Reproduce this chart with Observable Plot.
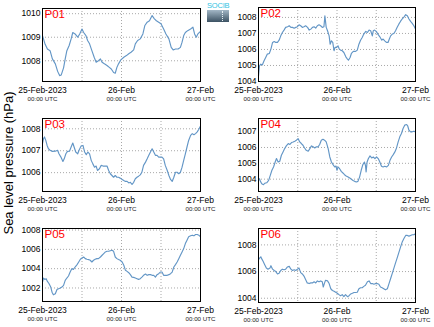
<!DOCTYPE html>
<html>
<head>
<meta charset="utf-8">
<script src="https://cdn.jsdelivr.net/npm/d3@7"></script>
<script src="https://cdn.jsdelivr.net/npm/@observablehq/plot@0.6"></script>
<style>
  html, body { margin: 0; padding: 0; background: #fff; }
  #chart { position: relative; width: 434px; height: 327px; overflow: hidden; background: #fff; font-family: "Liberation Sans", Arial, sans-serif; }
  #chart svg { position: absolute; overflow: visible; }
  #ylabel { position: absolute; left: 8px; top: 163px; transform: translate(-50%, -50%) rotate(-90deg); white-space: nowrap; font-size: 13px; color: #000; }
  #logo { position: absolute; left: 207px; top: 2px; width: 22px; height: 21px; }
  #logo .txt { font-size: 7.5px; line-height: 7px; color: #2fc2e2; text-align: center; letter-spacing: -0.2px; }
  #logo .box { margin-top: 1px; height: 12px; background: linear-gradient(#a3b7c6, #3c5263); position: relative; }
  #logo .box::after { content: ""; position: absolute; left: 15px; top: 1px; height: 10px; border-left: 1px dotted #e8f0f4; }
</style>
</head>
<body>
<div id="chart">
  <div id="ylabel">Sea level pressure (hPa)</div>
  <div id="logo"><div class="txt">SOCIB</div><div class="box"></div></div>
</div>
<script>
// Start of the time axis: 25-Feb-2023 00:00 UTC; points are [hours since start, hPa]
const startDate = "2023-02-25T00:00:00Z";
const dayLabels = ["25-Feb-2023", "26-Feb", "27-Feb"];
const timeLabel = "00:00 UTC";
const panelNames = ["P01", "P02", "P03", "P04", "P05", "P06"];

const p01 = [[0,1009.07],[0.8,1008.7],[1.5,1008.5],[2.3,1008.43],[3.0,1008.08],[3.9,1007.87],[4.6,1007.55],[5.2,1007.37],[5.7,1007.4],[6.4,1007.7],[6.9,1008.08],[7.4,1008.43],[8.1,1008.65],[8.7,1008.93],[9.2,1009.2],[9.9,1009.14],[10.7,1009.0],[11.3,1009.14],[12.0,1009.35],[12.5,1009.2],[13.2,1009.07],[13.7,1008.86],[14.3,1008.72],[15.0,1008.43],[15.7,1008.15],[16.3,1007.94],[17.0,1008.0],[17.6,1008.08],[18.1,1007.94],[18.8,1007.87],[19.6,1007.8],[20.3,1007.72],[20.9,1007.65],[21.6,1007.5],[22.1,1007.47],[22.6,1007.72],[23.1,1007.87],[23.8,1008.04],[24.7,1008.15],[25.5,1008.22],[26.2,1008.3],[26.9,1008.36],[27.7,1008.46],[28.2,1008.72],[28.9,1008.86],[29.7,1008.93],[30.5,1009.14],[31.1,1009.5],[31.8,1009.64],[32.5,1009.7],[33.3,1009.92],[34.0,1009.78],[34.6,1009.7],[35.3,1009.64],[36.0,1009.57],[36.8,1009.35],[37.5,1009.14],[38.4,1008.93],[39.1,1008.57],[39.7,1008.46],[40.4,1008.5],[41.2,1008.5],[41.9,1008.57],[42.4,1008.79],[42.9,1009.07],[43.4,1009.2],[44.1,1009.28],[45.0,1009.35],[45.7,1009.43],[46.2,1009.14],[46.7,1009.0],[47.2,1009.14],[48,1009.25]];

const p02 = [[0,1004.35],[0.3,1004.98],[0.7,1005.08],[1.2,1005.04],[1.7,1005.29],[2.2,1005.5],[2.7,1005.71],[3.3,1005.75],[3.8,1006.02],[4.3,1006.44],[4.8,1006.5],[5.3,1006.44],[5.8,1006.44],[6.3,1006.58],[6.8,1006.85],[7.3,1007.06],[7.8,1007.21],[8.3,1007.38],[8.9,1007.42],[9.4,1007.48],[9.9,1007.38],[10.4,1007.38],[10.9,1007.33],[11.4,1007.38],[11.9,1007.42],[12.4,1007.54],[12.9,1007.48],[13.4,1007.38],[13.9,1007.42],[14.4,1007.48],[15.0,1007.38],[15.5,1007.21],[16.0,1007.27],[16.5,1007.38],[17.0,1007.42],[17.5,1007.33],[18.0,1007.48],[18.5,1007.54],[19.0,1007.48],[19.5,1007.38],[20.0,1007.42],[20.3,1008.1],[20.7,1007.38],[21.1,1007.17],[21.6,1006.85],[21.9,1006.33],[22.3,1006.54],[22.7,1006.44],[23.1,1005.92],[23.4,1006.13],[23.9,1006.13],[24.3,1006.23],[24.7,1006.02],[25.1,1005.96],[25.6,1005.92],[26.1,1005.81],[26.7,1005.54],[27.2,1005.4],[27.5,1005.33],[28.0,1005.5],[28.4,1005.75],[29.0,1005.88],[29.7,1005.88],[30.2,1005.96],[30.7,1006.33],[31.2,1006.58],[31.7,1006.75],[32.2,1006.96],[32.8,1007.13],[33.3,1007.06],[33.8,1007.21],[34.3,1007.17],[34.8,1006.85],[35.1,1007.17],[35.5,1007.21],[36.0,1007.13],[36.5,1006.96],[37.1,1006.79],[37.7,1006.58],[38.1,1006.65],[38.6,1006.54],[39.1,1006.44],[39.6,1006.44],[40.0,1006.65],[40.4,1006.85],[40.9,1006.96],[41.4,1007.0],[41.9,1007.17],[42.4,1007.38],[42.9,1007.58],[43.4,1007.75],[43.9,1007.9],[44.5,1008.04],[45.0,1008.17],[45.5,1008.1],[46.0,1007.9],[46.5,1007.75],[47.0,1007.63],[47.5,1007.48],[48.0,1007.27]];

const p03 = [[0,1007.32],[0.3,1007.55],[0.6,1007.63],[1.0,1007.47],[1.4,1007.24],[1.8,1007.09],[2.3,1007.02],[3.0,1006.97],[3.9,1006.98],[4.6,1007.02],[5.0,1006.86],[5.6,1006.71],[6.2,1006.51],[6.6,1006.63],[7.1,1006.86],[7.6,1006.97],[8.2,1006.98],[8.7,1007.17],[9.2,1007.35],[9.6,1007.17],[10.1,1006.94],[10.7,1006.86],[11.1,1007.02],[11.7,1007.21],[12.3,1007.24],[12.8,1006.94],[13.3,1006.82],[13.8,1006.94],[14.3,1006.86],[14.8,1006.56],[15.3,1006.40],[15.8,1006.25],[16.3,1006.30],[16.7,1006.10],[17.3,1006.18],[17.8,1006.33],[18.4,1006.30],[19.1,1006.30],[19.6,1006.30],[20.1,1006.10],[20.6,1005.95],[21.1,1005.87],[21.6,1005.79],[22.1,1005.87],[22.6,1005.79],[23.1,1005.79],[23.6,1005.75],[24.2,1005.69],[24.7,1005.64],[25.2,1005.60],[25.7,1005.60],[26.2,1005.53],[26.7,1005.56],[27.2,1005.46],[27.7,1005.56],[28.2,1005.72],[28.7,1005.79],[29.2,1005.84],[29.7,1005.90],[30.2,1006.02],[30.7,1006.33],[31.3,1006.48],[31.8,1006.63],[32.3,1006.79],[32.8,1006.94],[33.3,1007.09],[33.8,1006.94],[34.3,1006.79],[34.8,1006.79],[35.3,1006.71],[35.8,1006.71],[36.3,1006.71],[36.8,1006.63],[37.3,1006.33],[37.9,1006.10],[38.4,1005.87],[38.9,1005.69],[39.4,1005.60],[39.9,1005.79],[40.4,1006.02],[40.9,1006.02],[41.4,1005.95],[41.9,1006.02],[42.4,1006.25],[42.9,1006.56],[43.4,1006.86],[43.9,1007.17],[44.4,1007.47],[45.0,1007.70],[45.5,1007.78],[46.0,1007.73],[46.5,1007.78],[47.0,1007.86],[47.5,1007.98],[48.0,1008.13]];

const p04 = [[0,1003.92],[0.3,1004.03],[0.6,1003.86],[1.0,1003.71],[1.5,1003.65],[2.0,1003.75],[2.5,1003.77],[3.1,1003.92],[3.6,1004.24],[4.1,1004.56],[4.6,1004.77],[5.1,1005.08],[5.5,1005.30],[6.0,1005.08],[6.5,1005.13],[7.0,1005.51],[7.5,1005.72],[8.0,1005.93],[8.5,1006.10],[9.1,1006.25],[9.6,1006.19],[10.1,1006.31],[10.6,1006.35],[11.1,1006.40],[11.6,1006.46],[12.1,1006.56],[12.6,1006.35],[13.1,1006.25],[13.6,1006.14],[14.1,1005.97],[14.6,1005.82],[15.2,1005.76],[15.7,1005.93],[16.2,1006.10],[16.7,1006.04],[17.2,1005.97],[17.7,1006.04],[18.2,1006.04],[18.7,1006.19],[19.2,1006.46],[19.7,1006.52],[20.2,1006.46],[20.7,1006.35],[21.3,1005.93],[21.8,1005.40],[22.3,1005.08],[22.8,1004.92],[23.3,1004.77],[23.7,1004.83],[24.0,1004.56],[24.3,1004.77],[24.8,1004.66],[25.3,1004.49],[25.8,1004.39],[26.3,1004.28],[26.8,1004.20],[27.4,1004.13],[27.9,1004.07],[28.4,1003.99],[28.9,1003.92],[29.4,1003.86],[29.9,1003.82],[30.4,1003.86],[30.9,1004.13],[31.4,1004.56],[31.9,1004.92],[32.4,1005.08],[32.7,1004.87],[32.9,1004.45],[33.2,1005.08],[33.6,1005.30],[34.1,1005.47],[34.6,1005.34],[35.1,1005.40],[35.6,1005.30],[36.1,1005.40],[36.6,1005.30],[37.1,1005.08],[37.6,1004.81],[38.1,1004.77],[38.6,1004.81],[39.2,1004.77],[39.7,1004.87],[40.2,1005.19],[40.7,1005.40],[41.2,1005.55],[41.7,1005.72],[42.2,1005.97],[42.7,1006.35],[43.2,1006.67],[43.7,1006.88],[44.2,1007.20],[44.7,1007.41],[45.3,1007.45],[45.6,1007.37],[46.0,1007.09],[46.5,1006.99],[47.0,1006.99],[47.5,1007.03],[48.0,1006.99]];

const p05 = [[0,1002.61],[0.3,1003.03],[0.7,1002.89],[1.1,1002.96],[1.5,1002.68],[2.0,1002.44],[2.5,1002.09],[2.9,1001.57],[3.3,1001.29],[3.9,1001.40],[4.4,1001.85],[4.9,1001.92],[5.4,1001.99],[5.9,1002.09],[6.4,1002.27],[6.9,1002.79],[7.4,1003.03],[7.9,1003.24],[8.4,1003.65],[8.9,1004.00],[9.4,1003.93],[9.9,1004.17],[10.5,1004.42],[11.0,1004.69],[11.5,1004.97],[12.0,1005.11],[12.5,1005.21],[13.0,1005.04],[13.5,1004.97],[14.0,1004.94],[14.5,1004.87],[15.0,1004.69],[15.5,1004.87],[16.0,1004.97],[16.5,1005.04],[17.0,1005.04],[17.6,1005.21],[18.1,1005.39],[18.6,1005.56],[19.1,1005.73],[19.6,1005.80],[20.1,1005.80],[20.6,1005.86],[21.1,1005.91],[21.6,1005.80],[22.1,1005.21],[22.6,1005.04],[23.1,1004.94],[23.6,1004.87],[24.2,1004.69],[24.7,1004.35],[25.2,1003.83],[25.7,1003.72],[26.2,1003.58],[26.7,1003.38],[27.2,1003.13],[27.7,1003.10],[28.2,1003.03],[28.7,1002.96],[29.2,1002.89],[29.7,1002.96],[30.2,1003.13],[30.7,1003.31],[31.3,1003.45],[31.8,1003.31],[32.3,1003.38],[32.8,1003.38],[33.3,1003.31],[33.8,1003.31],[34.3,1003.13],[34.8,1003.38],[35.3,1003.48],[35.8,1003.65],[36.3,1003.65],[36.8,1003.31],[37.3,1003.31],[37.9,1003.31],[38.4,1003.38],[38.9,1003.48],[39.4,1003.65],[39.9,1004.17],[40.4,1004.42],[40.9,1004.69],[41.4,1005.04],[41.9,1005.39],[42.4,1005.73],[42.9,1006.08],[43.4,1006.60],[43.9,1006.95],[44.4,1007.30],[45.0,1007.40],[45.5,1007.47],[46.0,1007.40],[46.5,1007.54],[47.0,1007.54],[47.5,1007.47],[48.0,1007.30]];

const p06 = [[0,1006.90],[0.4,1007.03],[0.7,1007.11],[1.0,1006.95],[1.4,1006.77],[1.9,1006.52],[2.4,1006.26],[2.9,1006.18],[3.5,1006.26],[3.8,1006.44],[4.3,1006.18],[4.8,1006.08],[5.3,1006.00],[5.8,1005.82],[6.3,1005.87],[6.8,1006.08],[7.3,1006.18],[7.8,1006.13],[8.3,1006.18],[8.8,1006.34],[9.4,1006.39],[9.9,1006.18],[10.4,1006.08],[10.9,1006.13],[11.4,1006.08],[11.9,1006.18],[12.4,1006.26],[12.9,1005.92],[13.4,1005.82],[13.9,1005.66],[14.4,1005.41],[14.9,1005.15],[15.5,1005.10],[16.0,1005.15],[16.5,1005.15],[17.0,1005.23],[17.5,1005.15],[18.0,1005.30],[18.5,1005.23],[19.0,1005.30],[19.5,1005.23],[19.8,1004.84],[20.2,1005.15],[20.5,1005.35],[21.1,1005.30],[21.6,1005.10],[22.1,1004.71],[22.6,1004.58],[23.1,1004.53],[23.6,1004.45],[24.1,1004.37],[24.6,1004.27],[25.1,1004.19],[25.6,1004.27],[26.1,1004.12],[26.6,1004.27],[27.2,1004.12],[27.7,1004.19],[28.2,1004.32],[28.7,1004.37],[29.2,1004.43],[29.7,1004.43],[30.2,1004.45],[30.7,1004.71],[31.2,1004.79],[31.7,1004.79],[32.2,1004.89],[32.7,1004.97],[33.3,1005.23],[33.8,1005.30],[34.3,1005.10],[34.8,1005.10],[35.3,1005.05],[35.8,1005.10],[36.3,1005.10],[36.8,1005.05],[37.3,1004.84],[37.8,1004.79],[38.3,1004.71],[38.8,1004.63],[39.4,1004.71],[39.9,1005.10],[40.4,1005.48],[40.9,1005.87],[41.4,1006.26],[41.9,1006.65],[42.4,1007.03],[42.9,1007.42],[43.4,1007.81],[43.9,1008.19],[44.5,1008.50],[45.0,1008.71],[45.5,1008.71],[46.0,1008.66],[46.5,1008.71],[47.0,1008.76],[47.5,1008.76],[48.0,1008.84]];

const yDomains = [[1007.12, 1010.22], [1004, 1008.62], [1005.14, 1008.47], [1003.22, 1007.83], [1000.6, 1008.16], [1003.68, 1009.23]];
const yTicks = [[1008, 1009, 1010], [1004, 1005, 1006, 1007, 1008], [1006, 1007, 1008], [1004, 1005, 1006, 1007], [1002, 1004, 1006, 1008], [1004, 1006, 1008]];
const gridHours = [12, 24, 36];

const series = [p01, p02, p03, p04, p05, p06];
const t0 = new Date(startDate).getTime();
const toDate = h => new Date(t0 + h * 3600e3);
const dayTicks = [0, 24, 48].map(toDate);

const layout = [
  {left: 0,   top: 0,   height: 110, mt: 8, mb: 29, ml: 42, mr: 17},
  {left: 217, top: 0,   height: 110, mt: 7, mb: 29, ml: 41, mr: 19},
  {left: 0,   top: 110, height: 110, mt: 8, mb: 29, ml: 42, mr: 17},
  {left: 217, top: 110, height: 110, mt: 8, mb: 29, ml: 41, mr: 19},
  {left: 0,   top: 220, height: 107, mt: 8, mb: 26, ml: 42, mr: 17},
  {left: 217, top: 220, height: 107, mt: 8, mb: 25, ml: 41, mr: 19}
];

const chart = document.getElementById("chart");
const gridStyle = {stroke: "#a8a8a8", strokeOpacity: 1, strokeDasharray: "1,2", strokeWidth: 1};

series.forEach((pts, i) => {
  const L = layout[i];
  const data = pts.map(([h, v]) => ({t: toDate(h), v}));
  const svg = Plot.plot({
    width: 217,
    height: L.height,
    marginTop: L.mt, marginBottom: L.mb, marginLeft: L.ml, marginRight: L.mr,
    style: {fontFamily: "'Liberation Sans', Arial, sans-serif", fontSize: "8.5px", color: "#000", background: "transparent", overflow: "visible"},
    x: {type: "utc", domain: [dayTicks[0], dayTicks[2]], axis: null},
    y: {domain: yDomains[i], axis: null},
    marks: [
      Plot.ruleX(gridHours.map(toDate), gridStyle),
      Plot.ruleY(yTicks[i], gridStyle),
      Plot.line(data, {x: "t", y: "v", stroke: "#6396c6", strokeWidth: 1.15}),
      Plot.frame({stroke: "#000", strokeWidth: 1}),
      Plot.axisY(yTicks[i], {tickSize: 0, tickPadding: 2, label: null, tickFormat: d => String(d), fontSize: 8.5}),
      Plot.text(dayTicks, {x: d => d, frameAnchor: "bottom", dy: 8.5, text: (d, j) => dayLabels[j], lineAnchor: "middle", fontSize: 8.5}),
      Plot.text(dayTicks, {x: d => d, frameAnchor: "bottom", dy: 18, text: () => timeLabel, lineAnchor: "middle", fontSize: 6.2, fill: "#222"}),
      Plot.text([panelNames[i]], {frameAnchor: "top-left", dx: 2, dy: 1.5, text: d => d, fill: "#ff0000", fontSize: 11.5, textAnchor: "start", lineAnchor: "top"})
    ]
  });
  svg.style.left = L.left + "px";
  svg.style.top = L.top + "px";
  chart.appendChild(svg);
});
</script>
</body>
</html>
